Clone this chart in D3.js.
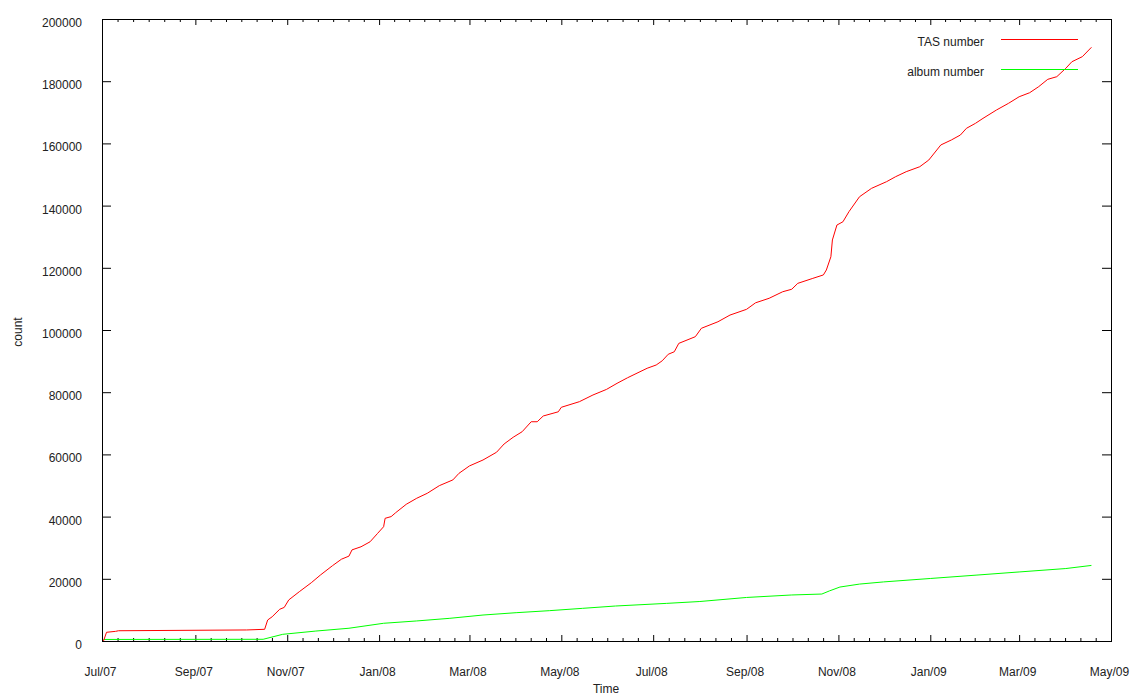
<!DOCTYPE html>
<html>
<head>
<meta charset="utf-8">
<script src="https://cdn.jsdelivr.net/npm/d3@7"></script>
<style>
  html, body { margin: 0; padding: 0; background: #fff; }
  svg { display: block; }
  text { font-family: "Liberation Sans", Arial, sans-serif; font-size: 12px; fill: #222; }
</style>
</head>
<body>
<svg id="chart" width="1136" height="697"></svg>
<script>
// ---- data ----
const tasDates = ["2007-07-02","2007-07-04","2007-07-10","2007-07-12","2007-10-05","2007-10-17","2007-10-19","2007-10-22","2007-10-27","2007-10-30","2007-11-02","2007-11-09","2007-11-17","2007-11-23","2007-12-01","2007-12-07","2007-12-12","2007-12-14","2007-12-20","2007-12-26","2007-12-31","2008-01-04","2008-01-05","2008-01-09","2008-01-12","2008-01-19","2008-01-26","2008-02-02","2008-02-10","2008-02-19","2008-02-23","2008-03-01","2008-03-10","2008-03-19","2008-03-24","2008-03-30","2008-04-05","2008-04-11","2008-04-15","2008-04-19","2008-04-29","2008-05-01","2008-05-13","2008-05-22","2008-05-31","2008-06-07","2008-06-14","2008-06-27","2008-07-03","2008-07-07","2008-07-11","2008-07-15","2008-07-18","2008-07-29","2008-08-02","2008-08-13","2008-08-21","2008-09-01","2008-09-07","2008-09-16","2008-09-25","2008-10-01","2008-10-05","2008-10-15","2008-10-22","2008-10-24","2008-10-27","2008-10-28","2008-10-31","2008-11-04","2008-11-08","2008-11-15","2008-11-23","2008-12-03","2008-12-09","2008-12-16","2008-12-25","2008-12-31","2009-01-08","2009-01-15","2009-01-21","2009-01-25","2009-01-31","2009-02-05","2009-02-14","2009-02-22","2009-03-01","2009-03-08","2009-03-14","2009-03-20","2009-03-26","2009-04-01","2009-04-05","2009-04-12","2009-04-18"];
const tasValues = [0,2800,3100,3300,3550,3760,6750,7800,10200,10800,13200,15850,18750,21200,24200,26300,27300,29300,30300,31900,34600,36750,39450,40000,41250,43950,45900,47500,49950,51800,53900,56300,58200,60700,63350,65500,67300,70500,70500,72350,73700,75150,76950,79100,80900,82850,84650,87700,88750,90100,92200,93000,95700,97850,100550,102650,104800,106650,108750,110200,112300,113100,115000,116600,117700,119300,123550,128950,133750,134800,138050,142850,145550,147700,149300,150900,152500,154650,159500,161100,162700,164850,166450,168050,170750,172900,175000,176300,178250,180600,181450,184150,186250,187900,190900];

const albumDates = ["2007-07-02","2007-10-16","2007-10-29","2007-11-20","2007-12-12","2008-01-04","2008-01-26","2008-02-17","2008-03-10","2008-04-01","2008-04-23","2008-05-15","2008-06-06","2008-07-10","2008-08-01","2008-09-01","2008-10-01","2008-10-21","2008-10-26","2008-11-02","2008-11-15","2008-12-01","2009-01-01","2009-02-01","2009-03-01","2009-04-01","2009-04-18"];
const albumValues = [500,550,2150,3200,4100,5700,6450,7300,8350,9100,9750,10500,11250,12100,12700,14000,14800,15100,16100,17350,18300,19000,20100,21200,22200,23300,24300];

const xTickDates = ["2007-07-01","2007-09-01","2007-11-01","2008-01-01","2008-03-01","2008-05-01","2008-07-01","2008-09-01","2008-11-01","2009-01-01","2009-03-01","2009-05-01"];
const yTickValues = [0,20000,40000,60000,80000,100000,120000,140000,160000,180000,200000];
const seriesNames = ["TAS number","album number"];
const seriesColors = ["#ff0000","#00ff00"];

// ---- layout ----
const pLeft = 102, pRight = 1111, pTop = 19, pBottom = 641;
const parse = d3.timeParse("%Y-%m-%d");
const svg = d3.select("#chart");

const majors = xTickDates.map(parse);
const x = d3.scaleTime().domain([majors[0], majors[majors.length - 1]]).range([pLeft, pRight]);
const y = d3.scaleLinear().domain([0, 200000]).range([pBottom, pTop]);

const minors = [];
for (let i = 0; i < majors.length - 1; i++) {
  const a = +majors[i], b = +majors[i + 1];
  for (let k = 1; k < 6; k++) minors.push(new Date(a + (b - a) * k / 6));
}
const fmt = d3.timeFormat("%b/%y");

// bottom axis (major, inward ticks)
const gx = svg.append("g").attr("transform", `translate(0,${pBottom})`)
  .call(d3.axisBottom(x).tickValues(majors).tickFormat(fmt).tickSize(-6).tickPadding(26));
gx.select(".domain").remove();
gx.selectAll("text").attr("dx", "-2");
const gxm = svg.append("g").attr("transform", `translate(0,${pBottom})`)
  .call(d3.axisBottom(x).tickValues(minors).tickFormat("").tickSize(-3));
gxm.select(".domain").remove();
// top mirror
const gt = svg.append("g").attr("transform", `translate(0,${pTop})`)
  .call(d3.axisTop(x).tickValues(majors).tickFormat("").tickSize(-6));
gt.select(".domain").remove();
const gtm = svg.append("g").attr("transform", `translate(0,${pTop})`)
  .call(d3.axisTop(x).tickValues(minors).tickFormat("").tickSize(-3));
gtm.select(".domain").remove();

// left axis
const gy = svg.append("g").attr("transform", `translate(${pLeft},0)`)
  .call(d3.axisLeft(y).tickValues(yTickValues).tickFormat(d3.format("d")).tickSize(-9).tickPadding(20));
gy.select(".domain").remove();
gy.selectAll("text").attr("dy", "0.62em");
// right mirror
const gr = svg.append("g").attr("transform", `translate(${pRight},0)`)
  .call(d3.axisRight(y).tickValues(yTickValues).tickFormat("").tickSize(-9));
gr.select(".domain").remove();

svg.selectAll(".tick line").attr("stroke", "#000");
svg.selectAll(".tick text").style("font-family", "'Liberation Sans', Arial, sans-serif").style("font-size", "12px").attr("fill", "#222");

// frame
svg.append("rect").attr("x", pLeft + 0.5).attr("y", pTop + 0.5)
  .attr("width", pRight - pLeft).attr("height", pBottom - pTop)
  .attr("fill", "none").attr("stroke", "#000").attr("stroke-width", 1);

// axis titles
svg.append("text").attr("x", 606).attr("y", 693).attr("text-anchor", "middle").text("Time");
svg.append("text").attr("transform", "translate(22,332) rotate(-90)").attr("text-anchor", "middle").text("count");

// lines
const line = d3.line().x(d => x(d[0])).y(d => y(d[1]));
const tasData = tasDates.map((d, i) => [parse(d), tasValues[i]]);
const albumData = albumDates.map((d, i) => [parse(d), albumValues[i]]);

svg.append("path").datum(albumData).attr("d", line)
  .attr("fill", "none").attr("stroke", seriesColors[1]).attr("stroke-width", 1);
svg.append("path").datum(tasData).attr("d", line)
  .attr("fill", "none").attr("stroke", seriesColors[0]).attr("stroke-width", 1);

// legend
const legY = [39.5, 69.5];
seriesNames.forEach((name, i) => {
  svg.append("text").attr("x", 984).attr("y", legY[i] + 6.5).attr("text-anchor", "end").text(name);
  svg.append("line").attr("x1", 1001).attr("x2", 1078).attr("y1", legY[i]).attr("y2", legY[i])
    .attr("stroke", seriesColors[i]).attr("stroke-width", 1).style("shape-rendering", "crispEdges");
});
</script>
</body>
</html>
